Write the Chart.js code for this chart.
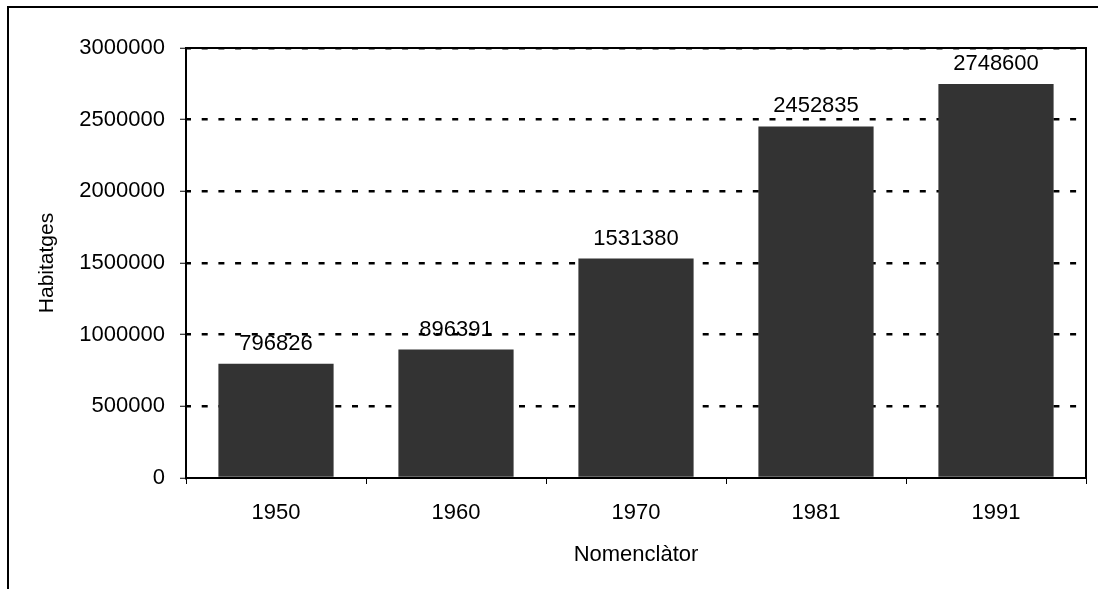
<!DOCTYPE html>
<html>
<head>
<meta charset="utf-8">
<script src="https://cdn.jsdelivr.net/npm/chart.js@4"></script>
<style>
  html, body { margin: 0; padding: 0; background: #fff; }
  #wrap { width: 1098px; height: 589px; }
</style>
</head>
<body>
<div id="wrap"><canvas id="grafic" width="1098" height="589"></canvas></div>
<script>
// dades del gràfic
var anys = ['1950', '1960', '1970', '1981', '1991'];
var habitatges = [796826, 896391, 1531380, 2452835, 2748600];
var titolX = 'Nomenclàtor';
var titolY = 'Habitatges';

var font = 'Liberation Sans, Arial, sans-serif';

// marc exterior + vores superior i dreta de l'àrea del gràfic
var marcs = {
  id: 'marcs',
  afterDraw: function(chart){
    var ctx = chart.ctx;
    var a = chart.chartArea;
    ctx.save();
    ctx.strokeStyle = '#000';
    ctx.lineWidth = 2;
    ctx.beginPath();
    ctx.moveTo(8, 589);
    ctx.lineTo(8, 7);
    ctx.lineTo(1098, 7);
    ctx.stroke();
    ctx.beginPath();
    ctx.moveTo(a.left, a.top);
    ctx.lineTo(a.right, a.top);
    ctx.lineTo(a.right, a.bottom);
    ctx.stroke();
    ctx.restore();
  }
};

// valors damunt de cada barra
var etiquetes = {
  id: 'etiquetes',
  afterDatasetsDraw: function(chart){
    var ctx = chart.ctx;
    var meta = chart.getDatasetMeta(0);
    ctx.save();
    ctx.font = '22px ' + font;
    ctx.fillStyle = '#000';
    ctx.textAlign = 'center';
    ctx.textBaseline = 'alphabetic';
    meta.data.forEach(function(bar, i){
      ctx.fillText(String(chart.data.datasets[0].data[i]), bar.x, bar.y - 14);
    });
    ctx.restore();
  }
};

var contexto = document.getElementById('grafic').getContext('2d');
var myChart = new Chart(contexto, {
  type: 'bar',
  data: {
    labels: anys,
    datasets: [{
      label: titolY,
      data: habitatges,
      backgroundColor: '#333333',
      borderWidth: 0,
      categoryPercentage: 1,
      barPercentage: 0.64
    }]
  },
  options: {
    responsive: false,
    animation: false,
    layout: { padding: { top: 48, right: 12, left: 0, bottom: 0 } },
    plugins: {
      legend: { display: false },
      tooltip: { enabled: false }
    },
    scales: {
      x: {
        grid: {
          offset: true,
          drawOnChartArea: false,
          color: '#000',
          tickLength: 6,
          tickWidth: 1
        },
        border: { color: '#000', width: 2 },
        ticks: {
          color: '#000',
          font: { family: font, size: 22 },
          padding: 16
        },
        title: {
          display: true,
          text: titolX,
          color: '#000',
          font: { family: font, size: 22 },
          padding: { top: 0, bottom: 21 }
        },
        afterFit: function(scale){ scale.height = 111; }
      },
      y: {
        min: 0,
        max: 3000000,
        grid: {
          color: function(c){ return (c.tick && c.tick.value === 0) ? 'rgba(0,0,0,0)' : '#000'; },
          lineWidth: 2.5,
          tickLength: 6,
          tickWidth: 1,
          tickColor: '#000'
        },
        border: { color: '#000', width: 2, dash: [6, 10.7], dashOffset: 2 },
        ticks: {
          stepSize: 500000,
          color: '#000',
          font: { family: font, size: 22 },
          padding: 15,
          callback: function(v){ return String(v); }
        },
        title: {
          display: true,
          text: titolY,
          color: '#000',
          font: { family: font, size: 21 },
          padding: { top: 35, bottom: 0 }
        },
        afterFit: function(scale){ scale.width = 186; }
      }
    }
  },
  plugins: [marcs, etiquetes]
});
</script>
</body>
</html>
